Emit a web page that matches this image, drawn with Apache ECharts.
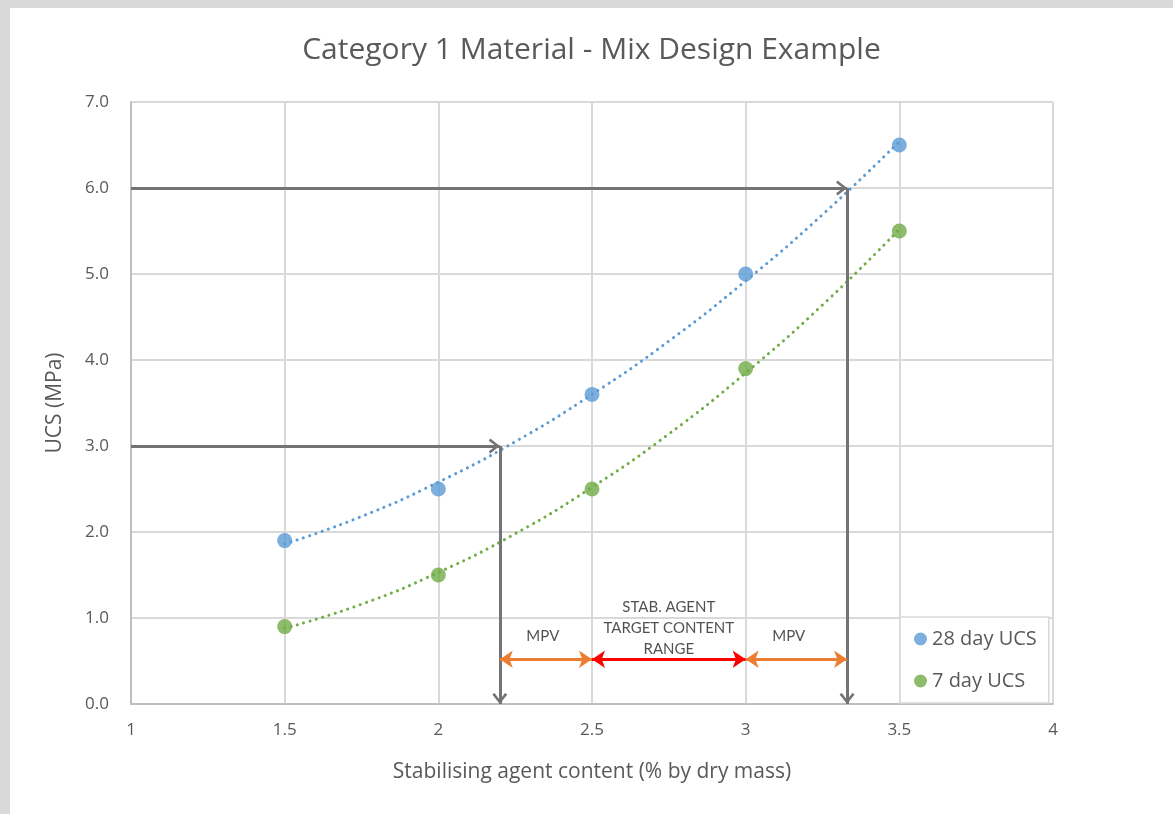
<!DOCTYPE html>
<html><head><meta charset="utf-8">
<script src="https://cdn.jsdelivr.net/npm/echarts@6/dist/echarts.min.js"></script>
<style>
html,body{margin:0;padding:0;background:#d9d9d9;width:1173px;height:814px;overflow:hidden;}
#c{position:absolute;left:10px;top:8px;width:1163px;height:806px;background:#fff;}
</style></head><body>
<div id="c"></div>
<script>
// ---- data ----
const xValues = [1.5, 2, 2.5, 3, 3.5];
const ucs28 = [1.9, 2.5, 3.6, 5.0, 6.5];
const ucs7 = [0.9, 1.5, 2.5, 3.9, 5.5];
// trendline readings (polynomial trendline as drawn)
const trendX = [1.5, 1.75, 2, 2.25, 2.5, 2.75, 3, 3.25, 3.5];
const trend28 = [1.86, 2.18, 2.58, 3.05, 3.6, 4.22, 4.92, 5.69, 6.54];
const trend7 = [0.88, 1.16, 1.53, 1.98, 2.52, 3.14, 3.85, 4.64, 5.52];
// design lookup
const targetUCS = [3.0, 6.0];
const targetContent = [2.2, 3.33];
const rangeLow = 2.5, rangeHigh = 3.0, rangeArrowY = 0.52;
const annotations = [
  {x: 2.34, y: 0.79, text: 'MPV'},
  {x: 2.75, y: 0.88, text: 'STAB. AGENT\nTARGET CONTENT\nRANGE'},
  {x: 3.14, y: 0.79, text: 'MPV'}
];
const xTicks = [1, 1.5, 2, 2.5, 3, 3.5, 4];
const yTicks = [0, 1, 2, 3, 4, 5, 6, 7];

const pair = (xs, ys) => xs.map((x, i) => [x, ys[i]]);
// chevron with its tip at the symbol centre (degenerate sub-path extends the box)
const chevron = 'path://M10,0 L20,13 L17,15 L10,5.5 L3,15 L0,13 Z M10,-15 L10.01,-15 L10,-15 Z';
const FONT = '"Open Sans", "Noto Sans", sans-serif';
const TXT = '#595959';

const grayLines = [];
targetUCS.forEach((u, i) => {
  grayLines.push([{coord: [xTicks[0], u], symbol: 'none'}, {coord: [targetContent[i], u], symbol: chevron}]);
  grayLines.push([{coord: [targetContent[i], u], symbol: 'none'}, {coord: [targetContent[i], yTicks[0]], symbol: chevron}]);
});

const chart = echarts.init(document.getElementById('c'), null, {renderer: 'canvas'});
chart.setOption({
  animation: false,
  textStyle: {fontFamily: FONT},
  title: {
    text: 'Category 1 Material - Mix Design Example',
    left: 'center', top: 22,
    textStyle: {fontFamily: FONT, fontSize: 30, fontWeight: 'normal', color: TXT}
  },
  grid: {left: 121, right: 120, top: 94, bottom: 110},
  legend: {
    data: ['28 day UCS', '7 day UCS'],
    orient: 'vertical',
    left: 890, top: 609,
    padding: [12, 12, 12, 14],
    itemGap: 22,
    itemWidth: 13, itemHeight: 13,
    backgroundColor: '#fff',
    borderColor: '#d9d9d9', borderWidth: 1.5,
    textStyle: {fontFamily: FONT, fontSize: 20, color: TXT},
    z: 10
  },
  xAxis: {
    type: 'value', min: 1, max: 4, interval: 0.5,
    name: 'Stabilising agent content (% by dry mass)',
    nameLocation: 'middle', nameGap: 58,
    nameTextStyle: {fontFamily: FONT, fontSize: 21, color: TXT},
    axisLine: {show: true, lineStyle: {color: '#bfbfbf', width: 2}},
    axisTick: {show: false},
    axisLabel: {fontFamily: FONT, fontSize: 17, color: TXT, margin: 18},
    splitLine: {show: true, lineStyle: {color: '#d9d9d9', width: 2}}
  },
  yAxis: {
    type: 'value', min: 0, max: 7, interval: 1,
    name: 'UCS (MPa)',
    nameLocation: 'middle', nameGap: 65,
    nameTextStyle: {fontFamily: FONT, fontSize: 21, color: TXT},
    axisLine: {show: true, lineStyle: {color: '#bfbfbf', width: 2}},
    axisTick: {show: false},
    axisLabel: {fontFamily: FONT, fontSize: 17, color: TXT, margin: 22, formatter: v => v.toFixed(1)},
    splitLine: {show: true, lineStyle: {color: '#d9d9d9', width: 2}}
  },
  series: [
    {
      name: 'trend28', type: 'line', data: pair(trendX, trend28), smooth: true,
      showSymbol: false, silent: true,
      lineStyle: {color: '#5b9bd5', width: 3, type: [0.1, 6.5], cap: 'round'}, z: 3
    },
    {
      name: 'trend7', type: 'line', data: pair(trendX, trend7), smooth: true,
      showSymbol: false, silent: true,
      lineStyle: {color: '#70ad47', width: 3, type: [0.1, 6.5], cap: 'round'}, z: 3
    },
    {
      name: 'grayArrows', type: 'line', data: [], silent: true,
      markLine: {
        silent: true, animation: false,
        symbolSize: [15, 22],
        label: {show: false},
        lineStyle: {color: '#737373', width: 3, type: 'solid'},
        data: grayLines
      }, z: 4
    },
    {
      name: 'rangeArrows', type: 'line', data: [], silent: true,
      markLine: {
        silent: true, animation: false,
        symbol: ['arrow', 'arrow'],
        symbolSize: [13, 13],
        label: {show: false},
        data: [
          [{coord: [targetContent[0], rangeArrowY], lineStyle: {color: '#ed7d31', width: 3, type: 'solid'}}, {coord: [rangeLow, rangeArrowY]}],
          [{coord: [rangeLow, rangeArrowY], lineStyle: {color: '#ff0000', width: 3, type: 'solid'}}, {coord: [rangeHigh, rangeArrowY]}],
          [{coord: [rangeHigh, rangeArrowY], lineStyle: {color: '#ed7d31', width: 3, type: 'solid'}}, {coord: [targetContent[1], rangeArrowY]}]
        ]
      }, z: 4
    },
    {
      name: 'notes', type: 'scatter', silent: true, symbolSize: 0,
      data: annotations.map(a => ({value: [a.x, a.y], label: {formatter: a.text}})),
      label: {
        show: true, position: 'inside', color: '#262626',
        fontFamily: 'Lato, "Open Sans", sans-serif', fontSize: 15, lineHeight: 21, align: 'center'
      }, z: 5
    },
    {
      name: '28 day UCS', type: 'scatter', data: pair(xValues, ucs28),
      symbol: 'circle', symbolSize: 15, itemStyle: {color: '#5b9bd5'}, z: 6
    },
    {
      name: '7 day UCS', type: 'scatter', data: pair(xValues, ucs7),
      symbol: 'circle', symbolSize: 15, itemStyle: {color: '#70ad47'}, z: 6
    }
  ]
});
</script>
</body></html>
